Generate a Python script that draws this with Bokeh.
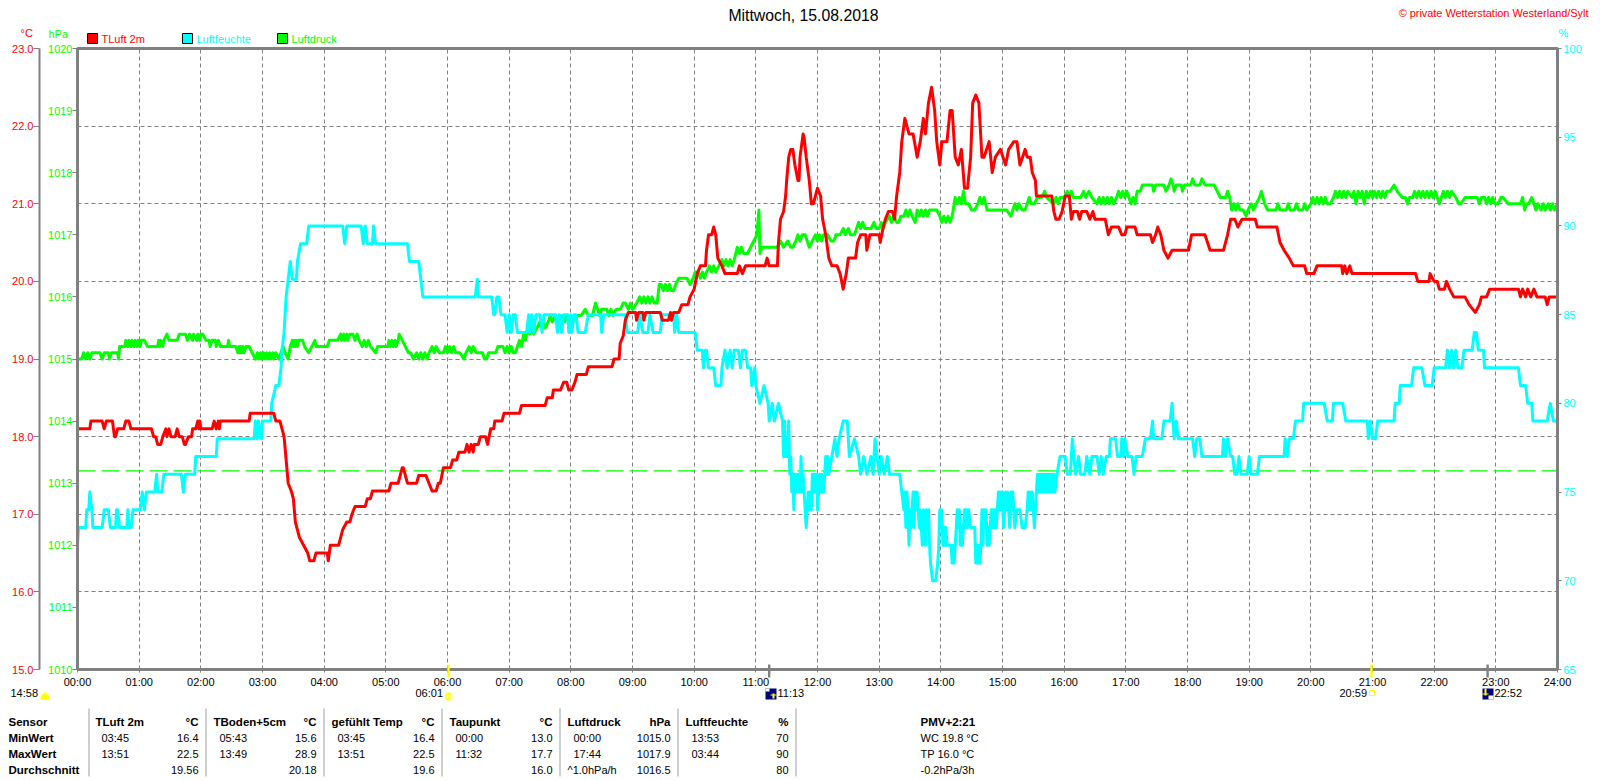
from bokeh.plotting import figure
from bokeh.models import Range1d, LinearAxis, FixedTicker
from bokeh.core.properties import value
from bokeh.embed import file_html
from bokeh.resources import INLINE

title_text = "Mittwoch, 15.08.2018"
credit_text = "© private Wetterstation Westerland/Sylt"
hour_labels = ["%02d:00" % h for h in range(25)]
temp_ticks = [15, 16, 17, 18, 19, 20, 21, 22, 23]
press_ticks = [1010, 1011, 1012, 1013, 1014, 1015, 1016, 1017, 1018, 1019, 1020]
hum_ticks = [65, 70, 75, 80, 85, 90, 95, 100]
ref_pressure = 1013.2

temp_pts = [(0,18.1),(12,18.1),(13,18.2),(24,18.2),(26,18.1),(28,18.2),(34,18.2),(36,18.0),(37,18.0),(39,18.1),(45,18.1),(47,18.2),(50,18.2),(52,18.1),(72,18.1),(74,18.0),(76,18.0),(78,17.9),(81,17.9),(83,18.0),(86,18.1),(87,18.0),(89,18.1),(91,18.0),(95,18.0),(97,18.1),(99,18.0),(102,18.0),(104,17.9),(105,17.9),(108,18.0),(111,18.0),(112,18.1),(115,18.1),(117,18.2),(118,18.1),(119,18.2),(120,18.1),(122,18.1),(131,18.1),(133,18.2),(135,18.1),(137,18.2),(138,18.1),(139,18.2),(167,18.2),(168,18.3),(191,18.3),(193,18.2),(197,18.2),(199,18.1),(201,18.0),(203,17.7),(205,17.4),(208,17.3),(210,17.2),(212,16.9),(214,16.8),(216,16.7),(220,16.6),(224,16.5),(226,16.4),(230,16.4),(232,16.5),(243,16.5),(244,16.4),(245,16.5),(246,16.6),(254,16.6),(258,16.8),(262,16.9),(265,16.9),(267,17.0),(270,17.1),(280,17.1),(282,17.2),(285,17.2),(287,17.3),(303,17.3),(305,17.4),(312,17.4),(314,17.5),(316,17.6),(317,17.6),(319,17.5),(321,17.4),(330,17.4),(332,17.5),(339,17.5),(342,17.4),(345,17.3),(349,17.3),(351,17.4),(353,17.4),(356,17.6),(363,17.6),(365,17.7),(369,17.7),(371,17.8),(377,17.8),(379,17.9),(381,17.8),(383,17.9),(385,17.8),(386,17.9),(390,17.9),(392,18.0),(397,18.0),(399,17.9),(402,18.1),(405,18.1),(406,18.2),(413,18.2),(415,18.3),(430,18.3),(432,18.4),(455,18.4),(457,18.5),(462,18.5),(463,18.6),(470,18.6),(473,18.7),(476,18.7),(478,18.6),(481,18.6),(484,18.7),(486,18.8),(495,18.8),(497,18.9),(520,18.9),(522,19.0),(527,19.0),(528,19.2),(531,19.3),(533,19.5),(536,19.6),(543,19.6),(544,19.5),(546,19.6),(550,19.6),(551,19.5),(553,19.6),(567,19.6),(569,19.5),(575,19.5),(577,19.6),(578,19.5),(580,19.6),(585,19.6),(588,19.7),(594,19.7),(596,19.8),(600,19.9),(603,20.1),(606,20.2),(611,20.2),(612,20.4),(614,20.6),(617,20.6),(619,20.7),(621,20.6),(623,20.3),(627,20.2),(630,20.1),(642,20.1),(644,20.2),(647,20.1),(650,20.2),(669,20.2),(671,20.3),(673,20.2),(681,20.2),(682,20.5),(684,20.8),(687,20.9),(689,21.1),(690,21.3),(692,21.6),(694,21.7),(696,21.7),(698,21.5),(701,21.3),(702,21.3),(703,21.6),(706,21.9),(707,21.85),(709,21.6),(712,21.3),(714,21.0),(716,21.0),(720,21.2),(723,21.1),(725,20.8),(728,20.6),(731,20.3),(734,20.2),(739,20.2),(742,20.1),(745,19.9),(748,20.1),(750,20.3),(757,20.3),(759,20.5),(762,20.6),(767,20.6),(768,20.4),(771,20.6),(780,20.6),(781,20.5),(784,20.7),(786,20.8),(789,20.9),(793,20.9),(795,20.8),(797,21.1),(800,21.4),(802,21.8),(805,22.1),(807,22.0),(809,21.9),(813,21.9),(817,21.6),(820,21.8),(823,22.1),(825,21.9),(828,22.3),(831,22.5),(834,22.2),(836,21.8),(839,21.5),(841,21.8),(846,21.8),(849,22.2),(851,22.2),(854,21.6),(857,21.5),(860,21.7),(863,21.2),(866,21.2),(869,21.6),(871,22.3),(874,22.4),(877,22.3),(880,21.6),(882,21.6),(887,21.8),(890,21.4),(893,21.6),(898,21.7),(903,21.5),(906,21.7),(911,21.8),(914,21.8),(917,21.5),(922,21.7),(924,21.6),(927,21.6),(929,21.4),(932,21.3),(933,21.1),(948,21.1),(950,20.9),(952,20.8),(955,20.8),(958,20.9),(961,21.1),(965,21.1),(967,20.8),(969,20.9),(973,20.9),(975,20.8),(977,20.9),(982,20.9),(985,20.8),(988,20.9),(990,20.8),(1000,20.8),(1003,20.6),(1006,20.7),(1013,20.7),(1016,20.6),(1019,20.6),(1021,20.7),(1029,20.7),(1031,20.6),(1044,20.6),(1046,20.5),(1049,20.6),(1051,20.7),(1054,20.6),(1057,20.4),(1061,20.3),(1065,20.4),(1081,20.4),(1084,20.6),(1097,20.6),(1102,20.4),(1115,20.4),(1119,20.6),(1122,20.8),(1126,20.8),(1129,20.7),(1133,20.8),(1146,20.8),(1148,20.7),(1167,20.7),(1170,20.5),(1174,20.4),(1179,20.3),(1183,20.2),(1194,20.2),(1196,20.1),(1203,20.1),(1206,20.2),(1230,20.2),(1231,20.1),(1233,20.2),(1235,20.1),(1238,20.2),(1240,20.1),(1302,20.1),(1304,20.0),(1315,20.0),(1316,20.1),(1320,20.0),(1323,20.0),(1325,19.9),(1330,19.9),(1332,20.0),(1335,19.9),(1339,19.8),(1350,19.8),(1354,19.7),(1360,19.6),(1364,19.7),(1366,19.8),(1371,19.8),(1374,19.9),(1402,19.9),(1404,19.8),(1406,19.9),(1409,19.8),(1411,19.9),(1414,19.8),(1417,19.9),(1420,19.8),(1428,19.8),(1430,19.7),(1432,19.8),(1440,19.8)]

hum_pts = [(0,72),(1,73),(8,73),(9,74),(11,74),(12,75),(14,74),(15,73),(24,73),(26,74),(30,74),(32,73),(37,73),(38,74),(39,74),(41,73),(48,73),(49,74),(50,73),(52,73),(54,74),(61,74),(63,75),(65,74),(67,75),(75,75),(77,76),(78,75),(82,75),(84,76),(101,76),(103,75),(105,76),(114,76),(115,77),(135,77),(136,78),(172,78),(173,79),(175,78),(176,79),(179,78),(180,79),(188,79),(189,80),(193,81),(196,81),(198,82),(199,83),(201,84),(203,86),(205,87),(207,88),(209,87),(213,87),(214,88),(217,89),(223,89),(225,90),(258,90),(260,89),(262,90),(276,90),(278,89),(280,90),(282,89),(287,89),(288,90),(290,89),(321,89),(323,88),(332,88),(334,87),(336,86),(387,86),(389,87),(390,86),(403,86),(405,85),(406,85),(408,86),(410,86),(412,85),(416,85),(418,84),(420,85),(422,84),(424,85),(426,85),(428,84),(437,84),(439,85),(440,84),(442,85),(444,84),(446,85),(450,85),(452,84),(454,85),(465,85),(467,84),(469,85),(471,84),(473,85),(477,85),(478,84),(480,85),(481,84),(483,85),(485,85),(487,84),(494,84),(497,85),(509,85),(510,84),(512,85),(533,85),(535,84),(545,84),(547,85),(550,84),(555,84),(557,85),(560,84),(567,84),(569,85),(580,85),(581,84),(583,85),(585,84),(601,84),(603,83),(608,83),(609,82),(611,83),(612,83),(614,82),(619,82),(621,81),(626,81),(627,82),(630,83),(632,82),(635,83),(637,82),(639,83),(643,83),(645,82),(647,83),(650,83),(652,82),(655,82),(656,81),(659,82),(660,81),(664,80),(668,81),(672,80),(673,79),(676,80),(678,79),(682,80),(686,79),(687,77),(688,79),(689,77),(690,78),(691,77),(692,79),(693,76),(694,77),(695,75),(696,76),(697,74),(698,76),(699,75),(700,76),(701,75),(702,76),(703,75),(704,77),(705,75),(706,76),(707,75),(708,74),(709,73),(710,74),(711,75),(712,74),(713,75),(714,74),(715,76),(716,75),(717,76),(718,75),(719,76),(720,74),(721,75),(722,76),(723,75),(724,76),(725,75),(726,75),(727,76),(728,77),(729,76),(730,77),(731,76),(734,77),(737,78),(739,77),(741,78),(745,79),(749,79),(751,77),(756,78),(760,77),(762,76),(765,77),(768,76),(772,77),(774,76),(776,78),(780,76),(782,77),(785,76),(788,77),(790,76),(800,76),(802,75),(804,74),(805,75),(806,73),(807,75),(808,74),(809,72),(810,74),(811,73),(812,74),(813,75),(814,73),(815,75),(816,74),(817,75),(818,74),(819,73),(820,74),(821,73),(822,72),(823,74),(824,73),(825,72),(826,74),(827,73),(828,74),(829,72),(830,71),(832,70),(835,70),(837,71),(838,72),(839,74),(840,73),(841,74),(842,72),(843,73),(844,72),(845,73),(846,72),(848,72),(850,72),(851,71),(852,72),(853,71),(854,72),(855,73),(856,74),(857,73),(858,74),(859,72),(860,73),(861,72),(862,73),(863,74),(864,73),(865,74),(866,73),(867,74),(869,73),(873,73),(874,71),(875,72),(876,71),(877,72),(878,71),(879,72),(880,74),(881,72),(882,74),(883,73),(884,74),(885,72),(886,73),(887,72),(888,73),(889,74),(890,73),(891,74),(892,73),(893,74),(894,73),(895,74),(896,75),(897,74),(898,75),(899,74),(900,75),(901,73),(902,74),(903,75),(904,74),(905,75),(906,74),(907,73),(908,75),(909,74),(910,75),(911,74),(912,73),(914,74),(917,74),(919,73),(922,73),(924,74),(925,75),(926,74),(927,75),(928,74),(929,75),(930,74),(931,73),(932,74),(933,75),(934,76),(935,75),(936,76),(937,75),(938,76),(939,75),(940,76),(941,75),(942,76),(943,75),(944,76),(945,75),(946,76),(947,75),(948,76),(949,75),(950,76),(951,75),(953,76),(956,77),(961,77),(963,76),(966,76),(968,78),(971,76),(974,77),(976,76),(980,76),(982,77),(985,76),(987,77),(992,77),(994,76),(996,77),(998,76),(1001,77),(1004,77),(1005,78),(1010,78),(1012,77),(1015,77),(1016,78),(1018,77),(1019,78),(1022,77),(1026,77),(1028,76),(1030,77),(1036,77),(1039,78),(1044,78),(1046,79),(1047,78),(1055,78),(1057,79),(1063,79),(1065,80),(1067,78),(1069,79),(1071,78),(1085,78),(1087,77),(1089,78),(1092,78),(1094,77),(1114,77),(1115,78),(1117,77),(1119,78),(1122,77),(1124,77),(1126,76),(1128,76),(1130,77),(1132,76),(1138,76),(1140,77),(1142,76),(1148,76),(1150,77),(1174,77),(1175,78),(1177,77),(1179,78),(1183,78),(1185,79),(1192,79),(1193,80),(1213,80),(1216,79),(1221,79),(1222,80),(1231,80),(1234,79),(1255,79),(1256,78),(1258,79),(1260,78),(1263,78),(1265,79),(1281,79),(1282,80),(1286,80),(1287,81),(1298,81),(1300,82),(1308,82),(1311,81),(1318,81),(1320,82),(1331,82),(1333,83),(1335,82),(1337,83),(1339,82),(1341,83),(1343,82),(1347,82),(1349,83),(1357,83),(1359,84),(1361,84),(1363,83),(1368,83),(1369,82),(1402,82),(1404,81),(1409,81),(1411,80),(1415,80),(1416,79),(1430,79),(1433,80),(1436,79),(1440,79)]

press_pts = [(0,1015.0),(4,1015.0),(6,1015.1),(8,1015.0),(10,1015.1),(12,1015.0),(14,1015.1),(22,1015.1),(24,1015.0),(26,1015.1),(30,1015.1),(31,1015.0),(33,1015.1),(39,1015.1),(40,1015.0),(41,1015.2),(46,1015.2),(47,1015.3),(49,1015.2),(50,1015.3),(52,1015.2),(53,1015.3),(55,1015.2),(56,1015.3),(58,1015.2),(59,1015.3),(61,1015.2),(62,1015.3),(65,1015.3),(68,1015.2),(78,1015.2),(79,1015.3),(80,1015.2),(81,1015.3),(83,1015.2),(84,1015.3),(87,1015.4),(89,1015.3),(97,1015.3),(99,1015.4),(105,1015.4),(107,1015.3),(109,1015.4),(112,1015.3),(113,1015.4),(116,1015.3),(117,1015.4),(119,1015.3),(120,1015.4),(122,1015.4),(125,1015.3),(128,1015.3),(129,1015.2),(131,1015.3),(134,1015.3),(135,1015.2),(137,1015.3),(139,1015.2),(146,1015.2),(147,1015.3),(148,1015.2),(154,1015.2),(156,1015.1),(157,1015.2),(158,1015.1),(159,1015.2),(160,1015.1),(161,1015.2),(162,1015.1),(164,1015.2),(167,1015.2),(170,1015.1),(173,1015.0),(175,1015.1),(176,1015.0),(178,1015.1),(179,1015.0),(181,1015.1),(182,1015.0),(184,1015.1),(185,1015.0),(187,1015.1),(188,1015.0),(190,1015.1),(191,1015.0),(193,1015.1),(196,1015.0),(198,1015.1),(200,1015.2),(202,1015.1),(205,1015.0),(207,1015.2),(209,1015.3),(210,1015.2),(211,1015.3),(212,1015.2),(213,1015.3),(214,1015.2),(215,1015.3),(219,1015.3),(221,1015.2),(225,1015.1),(228,1015.2),(231,1015.3),(232,1015.2),(243,1015.2),(245,1015.3),(253,1015.3),(256,1015.4),(257,1015.3),(259,1015.4),(260,1015.3),(262,1015.4),(263,1015.3),(265,1015.4),(268,1015.4),(270,1015.3),(272,1015.4),(274,1015.3),(277,1015.2),(279,1015.3),(281,1015.2),(283,1015.3),(285,1015.2),(290,1015.1),(292,1015.2),(302,1015.2),(303,1015.3),(304,1015.2),(306,1015.3),(307,1015.2),(309,1015.3),(310,1015.2),(312,1015.3),(313,1015.4),(316,1015.3),(319,1015.2),(322,1015.1),(324,1015.1),(327,1015.0),(330,1015.1),(332,1015.0),(334,1015.1),(336,1015.0),(338,1015.1),(340,1015.0),(342,1015.1),(345,1015.2),(347,1015.1),(349,1015.2),(352,1015.1),(356,1015.1),(358,1015.2),(360,1015.1),(362,1015.2),(364,1015.1),(366,1015.2),(368,1015.1),(372,1015.1),(376,1015.0),(378,1015.1),(381,1015.2),(383,1015.1),(385,1015.2),(388,1015.1),(394,1015.1),(396,1015.0),(398,1015.0),(400,1015.1),(407,1015.1),(409,1015.2),(414,1015.2),(416,1015.1),(418,1015.2),(420,1015.1),(422,1015.2),(424,1015.1),(426,1015.1),(428,1015.2),(430,1015.3),(432,1015.2),(434,1015.4),(436,1015.3),(438,1015.5),(440,1015.4),(442,1015.5),(444,1015.4),(447,1015.5),(450,1015.6),(451,1015.5),(453,1015.6),(455,1015.5),(458,1015.6),(460,1015.7),(462,1015.6),(465,1015.7),(467,1015.6),(470,1015.7),(471,1015.6),(473,1015.7),(474,1015.6),(476,1015.7),(478,1015.6),(480,1015.7),(482,1015.6),(486,1015.7),(490,1015.7),(494,1015.8),(497,1015.7),(501,1015.7),(504,1015.9),(506,1015.8),(508,1015.7),(510,1015.8),(515,1015.8),(517,1015.7),(519,1015.8),(521,1015.7),(524,1015.8),(528,1015.8),(531,1015.9),(533,1015.9),(536,1015.8),(538,1015.9),(540,1015.8),(544,1015.9),(547,1016.0),(549,1015.9),(551,1016.0),(553,1015.9),(555,1016.0),(557,1015.9),(559,1016.0),(561,1015.9),(564,1015.9),(566,1016.2),(568,1016.2),(570,1016.1),(572,1016.2),(574,1016.1),(576,1016.2),(578,1016.1),(580,1016.1),(582,1016.2),(585,1016.3),(593,1016.3),(596,1016.2),(599,1016.3),(601,1016.4),(604,1016.4),(606,1016.3),(608,1016.4),(610,1016.3),(612,1016.4),(615,1016.5),(617,1016.4),(619,1016.5),(621,1016.4),(624,1016.5),(627,1016.6),(629,1016.5),(631,1016.6),(633,1016.5),(635,1016.6),(637,1016.5),(639,1016.6),(642,1016.8),(644,1016.7),(646,1016.8),(648,1016.7),(652,1016.7),(655,1016.8),(658,1016.9),(661,1017.0),(663,1017.4),(664,1016.7),(666,1016.8),(681,1016.8),(684,1016.9),(687,1016.8),(691,1016.9),(694,1016.8),(696,1016.8),(699,1016.9),(701,1017.0),(703,1016.9),(705,1017.0),(708,1017.0),(712,1016.8),(715,1016.9),(718,1017.0),(720,1016.9),(722,1017.0),(724,1016.9),(726,1017.0),(730,1017.0),(733,1016.9),(736,1016.9),(738,1017.0),(742,1017.0),(745,1017.1),(747,1017.0),(750,1017.1),(752,1017.0),(756,1017.0),(758,1017.1),(760,1017.2),(762,1017.1),(764,1017.2),(766,1017.1),(768,1017.1),(772,1017.1),(775,1017.2),(777,1017.1),(780,1017.1),(782,1017.2),(784,1017.1),(786,1017.2),(790,1017.3),(792,1017.2),(794,1017.3),(797,1017.2),(799,1017.2),(801,1017.3),(804,1017.3),(806,1017.4),(808,1017.3),(810,1017.4),(812,1017.3),(815,1017.2),(817,1017.4),(819,1017.3),(821,1017.4),(823,1017.3),(825,1017.4),(827,1017.3),(829,1017.4),(836,1017.4),(839,1017.3),(841,1017.2),(843,1017.3),(845,1017.2),(847,1017.3),(849,1017.2),(851,1017.3),(854,1017.6),(856,1017.5),(858,1017.6),(860,1017.5),(862,1017.7),(864,1017.5),(867,1017.5),(870,1017.4),(873,1017.4),(876,1017.5),(878,1017.6),(880,1017.5),(882,1017.6),(885,1017.4),(904,1017.4),(908,1017.3),(910,1017.4),(912,1017.5),(914,1017.4),(916,1017.5),(919,1017.4),(922,1017.4),(924,1017.5),(926,1017.6),(928,1017.5),(931,1017.5),(934,1017.6),(938,1017.6),(941,1017.7),(943,1017.6),(950,1017.5),(952,1017.6),(954,1017.5),(956,1017.6),(960,1017.6),(963,1017.7),(965,1017.6),(967,1017.7),(969,1017.6),(972,1017.6),(976,1017.6),(979,1017.7),(981,1017.6),(984,1017.7),(987,1017.6),(992,1017.5),(994,1017.6),(996,1017.5),(998,1017.6),(1000,1017.5),(1002,1017.6),(1004,1017.5),(1006,1017.6),(1008,1017.5),(1011,1017.6),(1013,1017.7),(1015,1017.6),(1017,1017.7),(1019,1017.6),(1021,1017.7),(1023,1017.6),(1025,1017.5),(1027,1017.6),(1029,1017.5),(1031,1017.7),(1034,1017.7),(1036,1017.8),(1046,1017.8),(1047,1017.7),(1049,1017.8),(1057,1017.8),(1059,1017.7),(1062,1017.8),(1064,1017.9),(1066,1017.8),(1067,1017.7),(1069,1017.8),(1074,1017.8),(1075,1017.7),(1077,1017.8),(1083,1017.8),(1085,1017.9),(1087,1017.8),(1092,1017.8),(1094,1017.9),(1097,1017.8),(1106,1017.8),(1109,1017.7),(1112,1017.6),(1114,1017.6),(1117,1017.6),(1119,1017.7),(1121,1017.6),(1123,1017.4),(1125,1017.5),(1127,1017.4),(1129,1017.5),(1131,1017.4),(1134,1017.4),(1137,1017.3),(1139,1017.4),(1142,1017.5),(1144,1017.4),(1147,1017.5),(1150,1017.6),(1152,1017.7),(1155,1017.5),(1158,1017.4),(1166,1017.4),(1168,1017.5),(1170,1017.4),(1176,1017.4),(1178,1017.5),(1180,1017.4),(1184,1017.4),(1186,1017.5),(1188,1017.4),(1192,1017.4),(1194,1017.5),(1196,1017.4),(1200,1017.5),(1202,1017.6),(1204,1017.5),(1206,1017.6),(1208,1017.5),(1210,1017.6),(1212,1017.5),(1214,1017.6),(1216,1017.5),(1219,1017.5),(1222,1017.6),(1224,1017.7),(1226,1017.6),(1228,1017.7),(1230,1017.6),(1232,1017.7),(1234,1017.6),(1236,1017.7),(1240,1017.6),(1242,1017.7),(1244,1017.5),(1246,1017.7),(1248,1017.6),(1250,1017.7),(1252,1017.5),(1254,1017.7),(1256,1017.6),(1258,1017.7),(1260,1017.6),(1262,1017.7),(1264,1017.6),(1266,1017.7),(1268,1017.6),(1270,1017.7),(1272,1017.6),(1274,1017.7),(1277,1017.7),(1281,1017.8),(1284,1017.7),(1289,1017.6),(1292,1017.6),(1294,1017.5),(1296,1017.6),(1299,1017.6),(1301,1017.7),(1303,1017.6),(1305,1017.7),(1307,1017.6),(1309,1017.7),(1311,1017.6),(1313,1017.7),(1315,1017.6),(1317,1017.7),(1319,1017.6),(1321,1017.7),(1323,1017.6),(1325,1017.5),(1327,1017.6),(1329,1017.7),(1331,1017.6),(1333,1017.7),(1335,1017.6),(1337,1017.7),(1341,1017.6),(1344,1017.5),(1346,1017.5),(1350,1017.6),(1362,1017.6),(1364,1017.5),(1366,1017.6),(1369,1017.6),(1371,1017.5),(1373,1017.6),(1375,1017.5),(1377,1017.6),(1379,1017.5),(1382,1017.5),(1385,1017.6),(1387,1017.6),(1392,1017.5),(1404,1017.5),(1406,1017.6),(1408,1017.4),(1410,1017.5),(1412,1017.5),(1415,1017.6),(1417,1017.5),(1419,1017.4),(1421,1017.5),(1424,1017.4),(1426,1017.5),(1428,1017.4),(1431,1017.5),(1433,1017.4),(1435,1017.5),(1437,1017.4),(1440,1017.5)]

table_head = ["TLuft 2m","TBoden+5cm","gefühlt Temp","Taupunkt","Luftdruck","Luftfeuchte"]
table_unit = ["°C","°C","°C","°C","hPa","%"]
min_time = ["03:45","05:43","03:45","00:00","00:00","13:53"]
min_val = ["16.4","15.6","16.4","13.0","1015.0","70"]
max_time = ["13:51","13:49","13:51","11:32","17:44","03:44"]
max_val = ["22.5","28.9","22.5","17.7","1017.9","90"]
avg_val = ["19.56","20.18","19.6","16.0","1016.5","80"]
row_names = ["Sensor","MinWert","MaxWert","Durchschnitt"]
side_notes = ["WC 19.8 °C","TP 16.0 °C","-0.2hPa/3h"]

W, H = 1596, 778
LEFT, TOP, RIGHT, BOTTOM = 77, 48, 1557, 669
FONT = "Liberation Sans"
RED, CYAN, GREEN = "#ff0000", "#00ffff", "#00ff00"
GREY = "#808080"

p = figure(width=W, height=H, output_backend="svg", toolbar_location=None,
           x_range=Range1d(0, 1440), y_range=Range1d(15, 23),
           min_border_left=LEFT, min_border_right=W-RIGHT, min_border_top=TOP, min_border_bottom=H-BOTTOM)
p.outline_line_color = GREY
p.outline_line_width = 3
p.background_fill_color = "white"
p.border_fill_color = "white"

p.extra_y_ranges = {"press": Range1d(1010, 1020), "hum": Range1d(65, 100)}

p.yaxis.visible = False
p.xaxis.ticker = FixedTicker(ticks=[60*i for i in range(25)])
p.xaxis.major_label_overrides = {60*i: hour_labels[i] for i in range(25)}
p.xaxis.major_label_text_font = FONT
p.xaxis.major_label_text_font_size = "11px"
p.xaxis.major_label_text_color = "black"
p.xaxis.major_label_standoff = 3
p.xaxis.major_tick_out = 3
p.xaxis.major_tick_in = 0
p.xaxis.minor_tick_line_color = None
p.xaxis.axis_line_color = GREY
p.xaxis.axis_line_width = 3
p.xaxis.major_tick_line_color = GREY

ax_p = LinearAxis(y_range_name="press", ticker=FixedTicker(ticks=press_ticks))
ax_t = LinearAxis(ticker=FixedTicker(ticks=temp_ticks))
ax_h = LinearAxis(y_range_name="hum", ticker=FixedTicker(ticks=hum_ticks))
ax_t.major_label_overrides = {t: "%.1f" % t for t in temp_ticks}
for ax, col in ((ax_p, GREEN), (ax_t, RED), (ax_h, CYAN)):
    ax.major_label_text_color = col
    ax.major_label_text_font = FONT
    ax.major_label_text_font_size = "11px"
    ax.minor_tick_line_color = None
    ax.major_tick_in = 0
    ax.major_tick_line_color = GREY
    ax.axis_line_color = GREY
ax_p.major_tick_out = 5
ax_p.major_label_standoff = 0
ax_p.axis_line_width = 3
ax_p.axis_label = " "
ax_p.axis_label_text_font_size = "1px"
ax_p.axis_label_standoff = 1
ax_t.major_tick_out = 6
ax_t.major_label_standoff = 0
ax_t.axis_line_width = 2
ax_h.major_tick_out = 4
ax_h.major_label_standoff = 2
ax_h.axis_line_width = 3
p.add_layout(ax_p, "left")
p.add_layout(ax_t, "left")
p.add_layout(ax_h, "right")

p.xgrid.ticker = FixedTicker(ticks=[60*i for i in range(1, 24)])
p.ygrid.ticker = FixedTicker(ticks=temp_ticks[1:-1])
for g in (p.xgrid, p.ygrid):
    g.grid_line_color = GREY
    g.grid_line_dash = "4 3"
    g.grid_line_width = 1

p.line([0, 1440], [ref_pressure, ref_pressure], y_range_name="press", line_color=GREEN,
       line_width=1.3, line_dash="18 6")
for pts, col, rng in ((press_pts, GREEN, "press"), (hum_pts, CYAN, "hum"), (temp_pts, RED, "default")):
    xs = [a for a, _ in pts]
    ys = [b for _, b in pts]
    p.line(xs, ys, line_color=col, line_width=3, line_join="round", y_range_name=rng)

# transparent page-sized figure laid over the chart: its ranges are page pixels
ov = figure(width=W, height=H, output_backend="svg", toolbar_location=None,
            x_range=Range1d(0, W), y_range=Range1d(H, 0), x_axis_location=None, y_axis_location=None,
            min_border=0, min_border_left=0, min_border_right=0, min_border_top=0, min_border_bottom=0,
            styles={"position": "absolute", "top": "0px", "left": "0px"})
ov.grid.visible = False
ov.outline_line_color = None
ov.background_fill_alpha = 0
ov.border_fill_alpha = 0


def text(s, x, y, color="black", size=11, align="left", bold=False):
    ov.text([x], [y], text=[s], text_color=color, text_font=value(FONT), text_font_size="%gpx" % size,
            text_align=align, text_baseline="middle", text_font_style="bold" if bold else "normal")


def box(l, t, r, b, fill, line=None):
    ov.quad(left=[l], right=[r], top=[t], bottom=[b], fill_color=fill, fill_alpha=1 if fill else 0,
            line_color=line, line_alpha=1 if line else 0)


def mark(minute, color):
    x = LEFT + minute*(RIGHT-LEFT)/1440
    box(x-1.2, 664, x+1.2, 677, color)


text(title_text, 803, 15, "#000000", 15.8, "center")
text(credit_text, 1588, 12, RED, 10.9, "right")
text("°C", 20, 32, RED)
text("hPa", 48, 33, GREEN)
text("%", 1558, 32, CYAN)
for name, color, bx in (("TLuft 2m", RED, 87), ("Luftfeuchte", CYAN, 182), ("Luftdruck", GREEN, 277)):
    box(bx, 33, bx+10, 43, color, "black")
    text(name, bx+14, 38, color)

mark(361, "#ffff00")
mark(1259, "#ffff00")
mark(673, GREY)
mark(1372, GREY)

text("14:58", 10, 692)
text("06:01", 415, 692)
text("11:13", 777, 692)
text("20:59", 1339, 692)
text("22:52", 1494, 692)

box(43, 692, 46, 699, "#ffff00")
box(41, 694, 48, 699, "#ffff00")
box(40, 696, 49, 699, "#ffff00")
box(445, 693, 451, 699, "#ffff00")
box(446, 692, 450, 700, "#ffff00")
box(444, 694, 452, 698, "#ffff66")
box(1369, 690, 1374, 695, None, "#ffff00")
box(765, 688, 776, 699, "#000080")
box(765, 688, 769, 691, "#ffffff")
box(772, 693, 774, 698, "#ffff00")
box(770, 694, 776, 695, "#ffff00")
box(1482, 688, 1493, 699, "#000080")
box(1488, 695, 1493, 699, "#ffffff")
box(1484, 688, 1486, 695, "#ffff00")
box(1482, 693, 1488, 694, "#ffff00")

for dx in (88, 205, 323, 441, 559, 677, 795):
    box(dx, 708, dx+1, 776, "#a0a0a0")

row_y = [721, 737, 753, 769]
for name, ry in zip(row_names, row_y):
    text(name, 8, ry, bold=True, size=11.5)
col_left = [95, 213, 331, 449, 567, 685]
col_right = [198, 316, 434, 552, 670, 788]
for i in range(6):
    text(table_head[i], col_left[i], row_y[0], bold=True, size=11.5)
    text(table_unit[i], col_right[i], row_y[0], bold=True, size=11.5, align="right")
    text(min_time[i], col_left[i]+6, row_y[1])
    text(min_val[i], col_right[i], row_y[1], align="right")
    text(max_time[i], col_left[i]+6, row_y[2])
    text(max_val[i], col_right[i], row_y[2], align="right")
    text(avg_val[i], col_right[i], row_y[3], align="right")
text("^1.0hPa/h", col_left[4], row_y[3])
text("PMV+2:21", 920, row_y[0], bold=True, size=11.5)
for s, ry in zip(side_notes, row_y[1:]):
    text(s, 920, ry)

open("out.html", "w").write(file_html([p, ov], INLINE))
